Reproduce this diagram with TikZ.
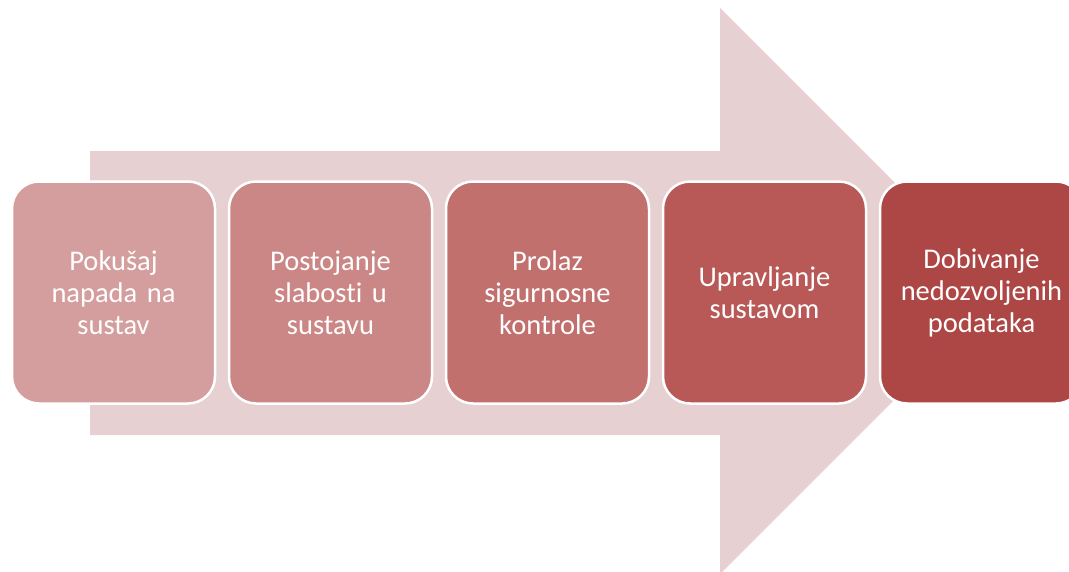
\documentclass[tikz,border=0pt]{standalone}
\usepackage{fontspec}
\newfontfamily\boxfont[Ligatures=NoCommon]{Carlito}
\definecolor{arrowfill}{RGB}{230,208,210}
\definecolor{cA}{RGB}{213,158,158}
\definecolor{cB}{RGB}{203,135,133}
\definecolor{cC}{RGB}{194,112,110}
\definecolor{cD}{RGB}{184,89,87}
\definecolor{cE}{RGB}{173,71,69}
\tikzset{
  stagebox/.style={draw=white, line width=2.5pt, rounded corners=27pt,
    minimum width=203pt, minimum height=222pt, text width=196pt, align=center,
    text=white, font=\boxfont\fontsize{28.5}{32}\selectfont, inner sep=0pt},
  bigarrow/.style={fill=arrowfill, draw=none}
}
\begin{document}
\begin{tikzpicture}[x=1pt,y=-1pt]
\useasboundingbox (0,0) rectangle (1069,571);
\clip (0,0) rectangle (1069,571);
\fill[white] (0,0) rectangle (1069,571);
\path[bigarrow] (90,151) -- (720,151) -- (720,8) -- (1003,291) -- (720,574) -- (720,435) -- (90,435) -- cycle;
\node[stagebox, fill=cA] (b1) at (113.5,292.5) {Pokušaj\\napada na\\sustav};
\node[stagebox, fill=cB] (b2) at (330.5,292.5) {Postojanje\\slabosti u\\sustavu};
\node[stagebox, fill=cC] (b3) at (547.5,292.5) {Prolaz\\sigurnosne\\kontrole};
\node[stagebox, fill=cD] (b4) at (764.5,292.5) {Upravljanje\\sustavom};
\node[stagebox, fill=cE] (b5) at (981.5,292.5) {Dobivanje\\nedozvoljenih\\podataka};
\end{tikzpicture}
\end{document}
